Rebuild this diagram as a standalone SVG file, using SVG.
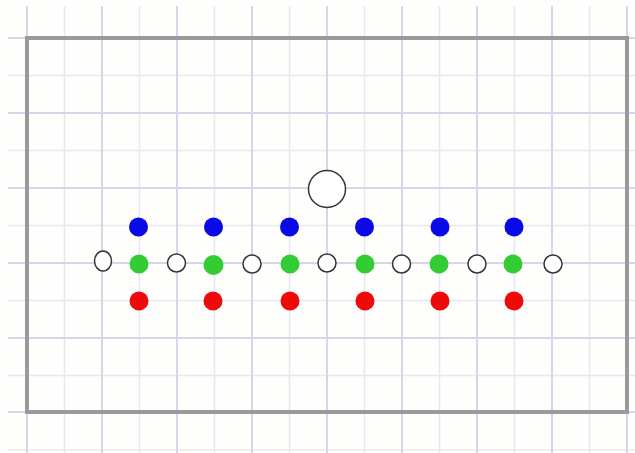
<svg xmlns="http://www.w3.org/2000/svg" width="635" height="453" viewBox="0 0 635 453">
<style>
.minor{stroke:#e8e8f2;stroke-width:1.5}
.major{stroke:#d6d6ea;stroke-width:2}
.frame{fill:none;stroke:#9a9a9a;stroke-width:4}
.b{fill:#0a0ae6}
.g{fill:#33cc33}
.r{fill:#ee0a0a}
.o{fill:#ffffff;stroke:#333;stroke-width:1.5}
</style>
<rect width="635" height="453" fill="#fefefc"/>
<g id="grid">
<g class="minor">
<line x1="64.5" y1="6" x2="64.5" y2="453"/><line x1="139.5" y1="6" x2="139.5" y2="453"/><line x1="214.5" y1="6" x2="214.5" y2="453"/><line x1="289.5" y1="6" x2="289.5" y2="453"/><line x1="364.5" y1="6" x2="364.5" y2="453"/><line x1="439.5" y1="6" x2="439.5" y2="453"/><line x1="514.5" y1="6" x2="514.5" y2="453"/><line x1="589.5" y1="6" x2="589.5" y2="453"/>
<line x1="8" y1="75.5" x2="635" y2="75.5"/><line x1="8" y1="150.5" x2="635" y2="150.5"/><line x1="8" y1="225.5" x2="635" y2="225.5"/><line x1="8" y1="300.5" x2="635" y2="300.5"/><line x1="8" y1="375.5" x2="635" y2="375.5"/><line x1="8" y1="450" x2="635" y2="450"/>
</g>
<g class="major">
<line x1="27" y1="6" x2="27" y2="453"/><line x1="102" y1="6" x2="102" y2="453"/><line x1="177" y1="6" x2="177" y2="453"/><line x1="252" y1="6" x2="252" y2="453"/><line x1="327" y1="6" x2="327" y2="453"/><line x1="402" y1="6" x2="402" y2="453"/><line x1="477" y1="6" x2="477" y2="453"/><line x1="552" y1="6" x2="552" y2="453"/><line x1="627" y1="6" x2="627" y2="453"/>
<line x1="8" y1="38" x2="635" y2="38"/><line x1="8" y1="113" x2="635" y2="113"/><line x1="8" y1="188" x2="635" y2="188"/><line x1="8" y1="263" x2="635" y2="263"/><line x1="8" y1="338" x2="635" y2="338"/><line x1="8" y1="412" x2="635" y2="412"/>
</g>
</g>
<rect id="frame" class="frame" x="27" y="38" width="600" height="374"/>
<g id="big-circle"><circle class="o" cx="327" cy="189" r="18.5"/></g>
<g id="blue-dots">
<circle class="b" cx="138.5" cy="227" r="9.5"/><circle class="b" cx="213.5" cy="227" r="9.5"/><circle class="b" cx="289.5" cy="227" r="9.5"/><circle class="b" cx="364.5" cy="227" r="9.5"/><circle class="b" cx="440" cy="227" r="9.5"/><circle class="b" cx="514" cy="227" r="9.5"/>
</g>
<g id="green-dots">
<circle class="g" cx="139" cy="264" r="9.5"/><circle class="g" cx="213.5" cy="265" r="10"/><circle class="g" cx="290" cy="264" r="9.5"/><circle class="g" cx="365" cy="264" r="9.5"/><circle class="g" cx="439" cy="264" r="9.5"/><circle class="g" cx="513" cy="264" r="9.5"/>
</g>
<g id="red-dots">
<circle class="r" cx="139" cy="301" r="9.5"/><circle class="r" cx="213" cy="301" r="9.5"/><circle class="r" cx="290" cy="301" r="9.5"/><circle class="r" cx="365" cy="301" r="9.5"/><circle class="r" cx="440" cy="301" r="9.5"/><circle class="r" cx="514" cy="301" r="9.5"/>
</g>
<g id="open-circles">
<ellipse class="o" cx="103" cy="261" rx="8.5" ry="10"/><circle class="o" cx="176.5" cy="263" r="9"/><circle class="o" cx="252" cy="264" r="9"/><circle class="o" cx="327" cy="263" r="9"/><circle class="o" cx="401.5" cy="264" r="9"/><circle class="o" cx="477" cy="264" r="9"/><circle class="o" cx="553" cy="264" r="9"/>
</g>
</svg>
